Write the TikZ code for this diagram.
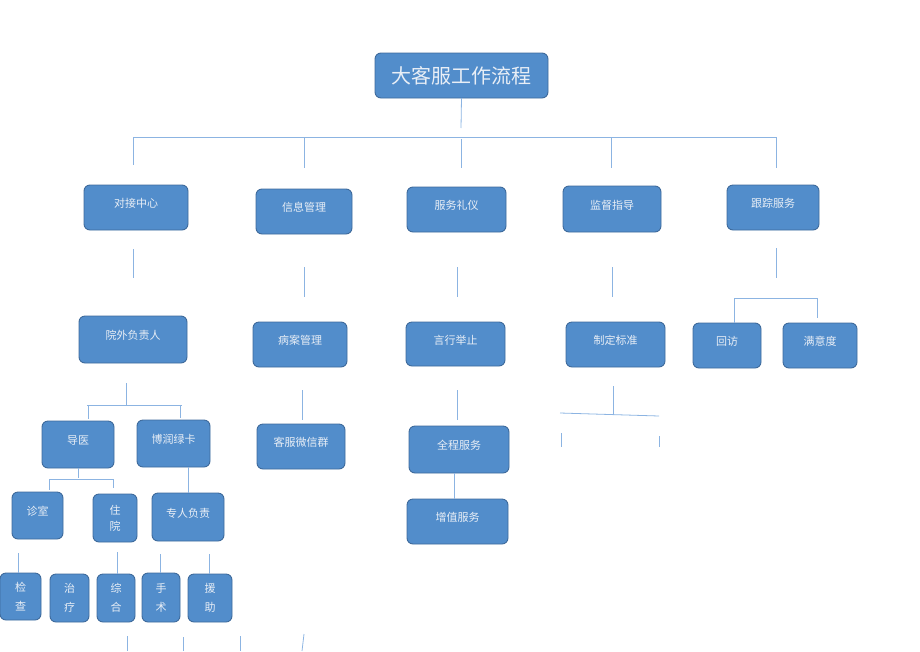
\documentclass[tikz,border=0pt]{standalone}
\usepackage{fontspec}
\newfontfamily\cjk{Noto Sans CJK SC}
\definecolor{boxfill}{RGB}{82,141,203}
\definecolor{boxedge}{RGB}{62,106,155}
\definecolor{boxtext}{RGB}{232,238,246}
\definecolor{lineblue}{RGB}{140,180,226}
\tikzset{
  bx/.style={draw=boxedge, line width=0.9pt, fill=boxfill, rounded corners=6pt,
    text=boxtext, font=\cjk\fontsize{11}{16}\selectfont, align=center,
    inner sep=0pt, outer sep=0pt},
  sbx/.style={bx, text height=8.5pt, text depth=8.5pt},
  tbx/.style={bx, font=\cjk\fontsize{20}{24}\selectfont},
  tall/.style={bx, font=\cjk\fontsize{11}{19}\selectfont},
  ln/.style={draw=lineblue, line width=0.8pt},
}
\newcommand{\bxat}[6]{\node[#1, minimum width=#4pt, minimum height=#5pt] (#2) at (#3) {#6};}
\begin{document}
\begin{tikzpicture}[x=1pt,y=-1pt]
\useasboundingbox (0,0) rectangle (920,651);
% title
\bxat{tbx}{t}{461.5,75.5}{173}{45}{大客服工作流程}
% level 1
\bxat{sbx}{a1}{136,207.5}{104}{45}{对接中心}
\bxat{sbx}{a2}{304,211.5}{96}{45}{信息管理}
\bxat{sbx}{a3}{456.5,209.5}{99}{45}{服务礼仪}
\bxat{sbx}{a4}{612,209}{98}{46}{监督指导}
\bxat{sbx}{a5}{773,207.5}{92}{45}{跟踪服务}
% level 2
\bxat{sbx}{b1}{133,339.5}{108}{47}{院外负责人}
\bxat{sbx}{b2}{300,344.5}{94}{45}{病案管理}
\bxat{sbx}{b3}{455.5,344}{99}{44}{言行举止}
\bxat{sbx}{b4}{615.5,344.5}{99}{45}{制定标准}
\bxat{sbx}{b5}{727,345.5}{68}{45}{回访}
\bxat{sbx}{b6}{820,345.5}{74}{45}{满意度}
% level 3
\bxat{sbx}{c1}{78,444.5}{72}{47}{导医}
\bxat{sbx}{c2}{173.5,443.5}{73}{47}{博润绿卡}
\bxat{sbx}{c3}{301,446.5}{88}{45}{客服微信群}
\bxat{sbx}{c4}{459,449.5}{100}{47}{全程服务}
\bxat{sbx}{c5}{457.5,521.5}{101}{45}{增值服务}
% level 4
\bxat{sbx}{d1}{37.5,515.5}{51}{47}{诊室}
\bxat{bx}{d2}{115,518}{44}{48}{住\\院}
\bxat{sbx}{d3}{188,517}{72}{48}{专人负责}
% level 5
\bxat{tall}{e1}{20.5,596.5}{41}{47}{检\\查}
\bxat{tall}{e2}{69.5,598}{39}{48}{治\\疗}
\bxat{tall}{e3}{116,598}{38}{48}{综\\合}
\bxat{tall}{e4}{161,597.5}{38}{49}{手\\术}
\bxat{tall}{e5}{210,598}{44}{48}{援\\助}
% connectors: title to level 1
\draw[ln] (t.south) -- (461,128);
\draw[ln] (133,137) -- (776,137);
\draw[ln] (133,137) -- (133,165);
\draw[ln] (304,137) -- (304,168);
\draw[ln] (461,139) -- (461,168);
\draw[ln] (611,137) -- (611,168);
\draw[ln] (776,137) -- (776,168);
% level 1 to level 2 (floating segments)
\draw[ln] (133,249) -- (133,278);
\draw[ln] (304,267) -- (304,297);
\draw[ln] (457,267) -- (457,297);
\draw[ln] (612,267) -- (612,297);
\draw[ln] (776,248) -- (776,278);
% 跟踪服务 bracket
\draw[ln] (734,298) -- (817,298);
\draw[ln] (734,298) -- (b5.north -| 734,0);
\draw[ln] (817,298) -- (817,318);
% 院外负责人 branch
\draw[ln] (126,383) -- (126,405);
\draw[ln] (87,405) -- (182,405);
\draw[ln] (88,405) -- (88,419);
\draw[ln] (180,405) -- (180,418);
% 导医 branch
\draw[ln] (78,468) -- (78,478);
\draw[ln] (49,479) -- (114,479);
\draw[ln] (49,479) -- (49,490);
\draw[ln] (113,479) -- (113,488);
% 博润绿卡 to 专人负责
\draw[ln] (c2.south -| 188,0) -- (d3.north);
% floating segments above bottom row
\draw[ln] (18,553) -- (18,573);
\draw[ln] (117,552) -- (117,574);
\draw[ln] (160,554) -- (160,573);
\draw[ln] (209,554) -- (209,574);
% bottom floating segments
\draw[ln] (127,636) -- (127,651);
\draw[ln] (183,637) -- (183,651);
\draw[ln] (240,636) -- (240,651);
\draw[ln] (304,634) -- (302,651);
% 病案管理 / 言行举止 branches
\draw[ln] (302,390) -- (302,420);
\draw[ln] (457,390) -- (457,420);
\draw[ln] (c4.south -| 454,0) -- (c5.north -| 454,0);
% 制定标准 branch
\draw[ln] (613,386) -- (613,415);
\draw[ln] (560,413) -- (659,416);
\draw[ln] (561,433) -- (561,447);
\draw[ln] (659,436) -- (659,447);
\end{tikzpicture}
\end{document}
